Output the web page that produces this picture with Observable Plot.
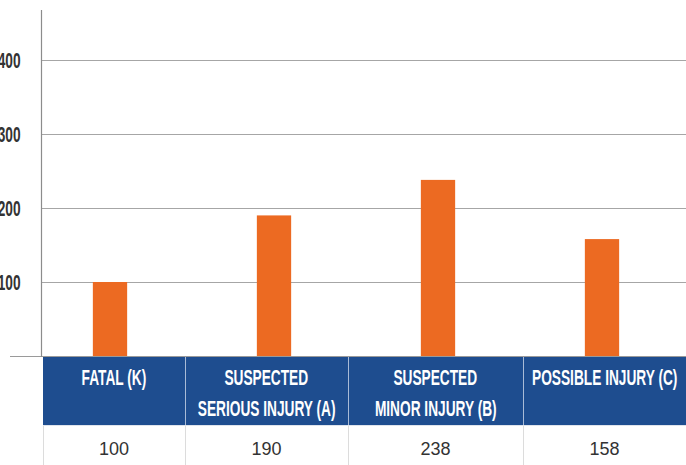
<!DOCTYPE html>
<html>
<head>
<meta charset="utf-8">
<script src="https://cdn.jsdelivr.net/npm/d3@7"></script>
<script src="https://cdn.jsdelivr.net/npm/@observablehq/plot@0.6"></script>
<style>
  html, body { margin: 0; padding: 0; background: #fff; }
  #wrap { position: relative; width: 686px; height: 465px; overflow: hidden; background: #fff; }
  #chart { position: absolute; left: 0; top: 0; }
  .head { position: absolute; top: 357px; height: 68px; background: #1e4d8f; color: #fff;
          box-sizing: border-box; padding-top: 5px; overflow: hidden; }
  .head .ln { line-height: 31px; height: 31px; white-space: nowrap; display: flex; justify-content: center; }
  .head .ln span { display: block; flex-shrink: 0; transform-origin: 50% 50%;
                   font-family: "Liberation Sans Narrow", "Liberation Sans", Arial, sans-serif;
                   font-weight: bold; font-size: 22px; }
  .val { position: absolute; top: 425px; height: 40px; box-sizing: border-box; text-align: center;
         font-family: "Liberation Sans", Arial, sans-serif; font-size: 18px; color: #333; line-height: 40px; padding-top: 4px; }
  .vsep { position: absolute; width: 1px; }
</style>
</head>
<body>
<div id="wrap"><div id="chart"></div></div>
<script>
// ---- data ----
const categories = ["FATAL (K)", "SUSPECTED SERIOUS INJURY (A)", "SUSPECTED MINOR INJURY (B)", "POSSIBLE INJURY (C)"];
const headerLines = [["FATAL (K)"], ["SUSPECTED", "SERIOUS INJURY (A)"], ["SUSPECTED", "MINOR INJURY (B)"], ["POSSIBLE INJURY (C)"]];
const values = [100, 190, 238, 158];
const yTicks = [100, 200, 300, 400];

const rows = categories.map((c, i) => ({category: c, value: values[i]}));

const condensedFont = '"Liberation Sans Narrow", "Liberation Sans", Arial, sans-serif';
const cv = document.createElement("canvas").getContext("2d");
cv.font = 'bold 22px ' + condensedFont;
const sx = 138 / cv.measureText("SERIOUS INJURY (A)").width;

const plot = Plot.plot({
  width: 686,
  height: 357,
  marginLeft: 41,
  marginRight: 0,
  marginTop: 10,
  marginBottom: 1,
  style: {background: "transparent", overflow: "visible"},
  x: {domain: categories, range: [26.65, 685.35], padding: 0, axis: null},
  y: {domain: [0, 467.6], axis: null},
  marks: [
    Plot.ruleY(yTicks, {stroke: "#a6a6a6", strokeWidth: 1.2}),
    Plot.barY(rows, {x: "category", y: "value", fill: "#ec6a22", insetLeft: 64.85, insetRight: 64.85}),
    Plot.ruleY([0], {stroke: "#9a9a9a", strokeWidth: 1.2, insetLeft: -31}),
    Plot.frame({anchor: "left", stroke: "#8c8c8c", strokeWidth: 1.2}),
    Plot.axisY({ticks: yTicks, tickSize: 0, tickPadding: 21, fontSize: 22, fontWeight: "bold", label: null,
                fontFamily: condensedFont, color: "#333"})
  ]
});
document.getElementById("chart").appendChild(plot);

// condense the y tick labels horizontally
d3.select(plot).selectAll("g[aria-label='y-axis tick label'] text").each(function () {
  const t = d3.select(this);
  const tr = t.attr("transform");
  if (tr) t.attr("transform", tr + ` scale(${sx},1)`);
  else {
    const x = +t.attr("x") || 0, y = +t.attr("y") || 0;
    t.attr("x", null).attr("y", null).attr("transform", `translate(${x},${y}) scale(${sx},1)`);
  }
});

// ---- data table below the chart ----
const edges = [43, 185, 348, 523, 686];
const wrap = d3.select("#wrap");
headerLines.forEach((lines, i) => {
  const h = wrap.append("div").attr("class", "head")
    .style("left", edges[i] + "px").style("width", (edges[i + 1] - edges[i]) + "px");
  lines.forEach(l => h.append("div").attr("class", "ln").append("span")
    .style("transform", `scaleX(${sx})`).text(l));
  wrap.append("div").attr("class", "val")
    .style("left", edges[i] + "px").style("width", (edges[i + 1] - edges[i]) + "px")
    .text(values[i]);
});
// separators
edges.slice(0, 4).forEach((e, i) => {
  if (i > 0) wrap.append("div").attr("class", "vsep")
    .style("left", (e - 0.5) + "px").style("top", "357px").style("height", "68px").style("background", "#a9bbd6");
  wrap.append("div").attr("class", "vsep")
    .style("left", (e - 0.5) + "px").style("top", "425px").style("height", "40px").style("background", "#dcdcdc");
});
wrap.append("div").style("position", "absolute").style("left", "43px").style("top", "425px")
  .style("width", "643px").style("height", "1px").style("background", "#dfe4ec");
</script>
</body>
</html>
